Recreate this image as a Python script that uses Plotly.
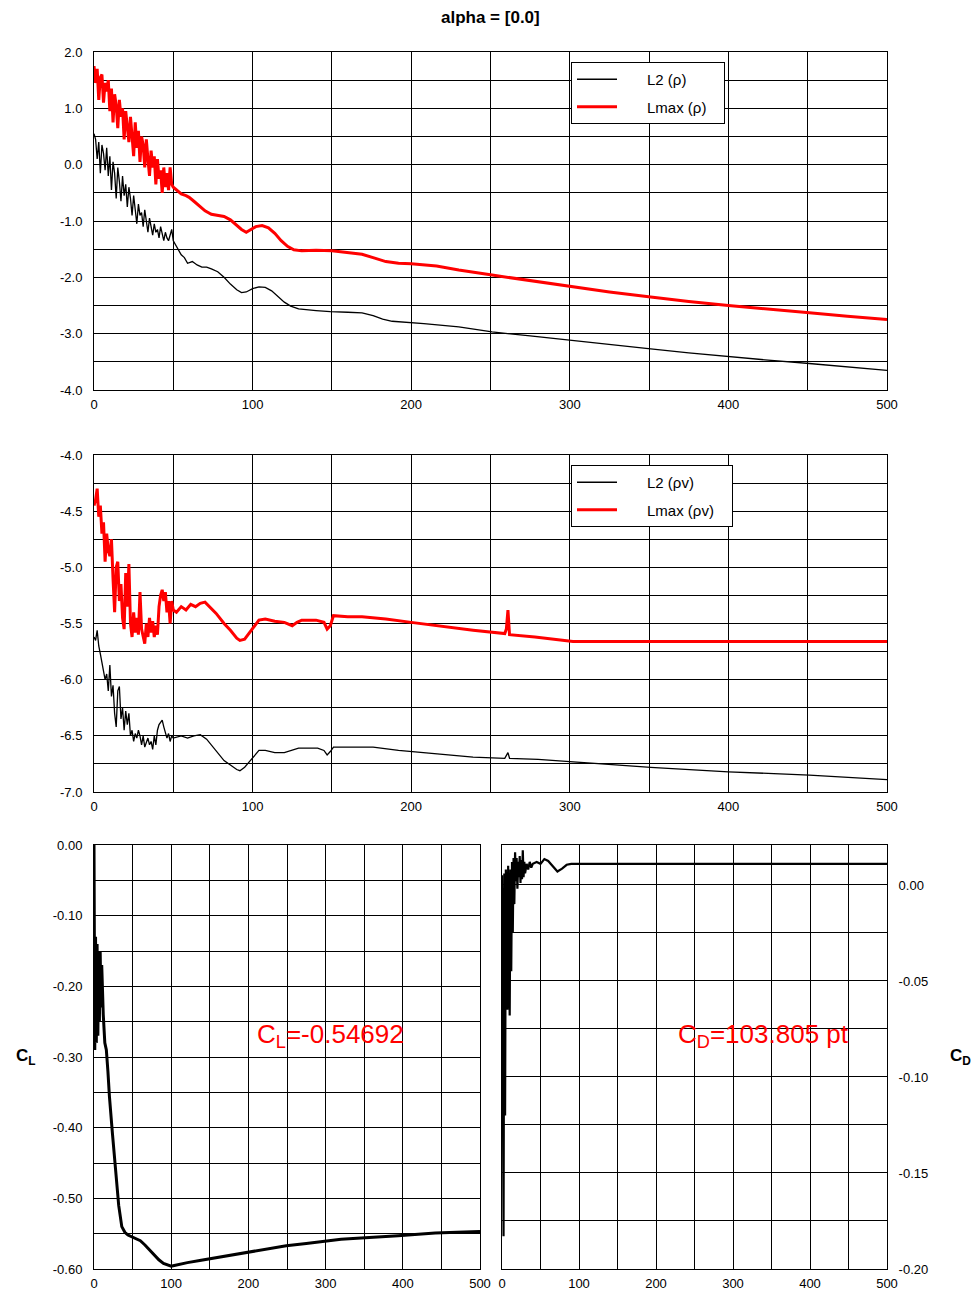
import plotly.graph_objects as go

# ---------------- data ----------------
# Top panel: residual of rho
rho_l2_it = list(range(0, 51)) + [52, 55, 57, 59, 62, 65, 68, 71, 74, 78, 82, 86, 90, 93, 96, 100, 104, 108, 112, 116,
                                  120, 124, 129, 140, 149, 160, 169, 176, 182, 188, 200, 208, 230, 251, 275, 300, 325,
                                  351, 375, 400, 425, 451, 475, 500]
rho_l2 = [0.55, 0.45, 0.10, 0.40, -0.15, 0.35, 0.20, -0.10, 0.30, -0.20, 0.15, -0.45, 0.05, -0.15, -0.60, -0.05, -0.30,
          -0.65, -0.20, -0.55, -0.35, -0.75, -0.40, -0.60, -0.90, -0.55, -0.80, -1.05, -0.70, -0.90, -0.85, -1.10,
          -0.80, -1.00, -1.20, -0.95, -1.10, -1.25, -1.05, -1.20, -1.15, -1.30, -1.10, -1.25, -1.35, -1.20, -1.30,
          -1.35, -1.25, -1.15, -1.35,
          -1.45, -1.60, -1.65, -1.75, -1.72, -1.78, -1.82, -1.82, -1.85, -1.90, -2.00, -2.12, -2.22, -2.27, -2.26,
          -2.20, -2.17, -2.18, -2.24, -2.34, -2.44, -2.51, -2.56, -2.59, -2.61, -2.62, -2.63, -2.68, -2.74, -2.78,
          -2.80, -2.82, -2.88, -2.97, -3.04, -3.12, -3.19, -3.27, -3.34, -3.41, -3.47, -3.53, -3.59, -3.65]

rho_max_it = list(range(0, 51)) + [52, 55, 58, 60, 63, 66, 70, 74, 78, 82, 86, 90, 93, 96, 99, 102, 106, 110, 114, 118,
                                   122, 126, 131, 140, 150, 160, 169, 177, 184, 192, 200, 216, 230, 251, 275, 300, 325,
                                   351, 375, 400, 425, 451, 475, 500]
rho_max = [1.75, 1.45, 1.70, 1.15, 1.55, 1.60, 1.10, 1.45, 1.30, 1.50, 0.95, 1.35, 0.75, 1.25, 1.05, 0.65, 1.15, 0.85,
           1.00, 0.45, 0.95, 0.70, 0.40, 0.85, 0.55, 0.15, 0.75, 0.30, 0.60, 0.05, 0.50, 0.35, -0.05, 0.45, 0.10,
           -0.20, 0.25, -0.05, 0.15, -0.35, 0.10, -0.25, -0.10, -0.50, -0.05, -0.40, -0.15, -0.45, -0.05, -0.35, -0.40,
           -0.45, -0.52, -0.55, -0.58, -0.65, -0.72, -0.82, -0.88, -0.90, -0.92, -0.98, -1.08, -1.15, -1.20, -1.15,
           -1.10, -1.08, -1.12, -1.22, -1.35, -1.45, -1.51, -1.53, -1.52, -1.53, -1.56, -1.59, -1.66, -1.72, -1.75,
           -1.76, -1.80, -1.87, -1.96, -2.06, -2.16, -2.26, -2.35, -2.43, -2.50, -2.57, -2.63, -2.69, -2.75]

# Middle panel: residual of rho*v
rv_l2_it = list(range(0, 51)) + [55, 59, 63, 67, 71, 75, 78, 82, 86, 90, 92, 95, 98, 101, 104, 108, 114, 120, 125, 129,
                                 141, 145, 147, 149, 151, 161, 176, 192, 216, 239, 259, 260, 261, 262, 280, 300, 351,
                                 400, 451, 500]
rv_l2 = [-5.62, -5.65, -5.56, -5.70, -5.77, -5.85, -5.90, -6.00, -5.95, -6.10, -5.87, -6.15, -6.05, -6.30, -6.42,
         -6.10, -6.06, -6.35, -6.25, -6.45, -6.28, -6.40, -6.30, -6.50, -6.45, -6.55, -6.48, -6.52, -6.45, -6.50,
         -6.58, -6.50, -6.60, -6.55, -6.52, -6.58, -6.55, -6.62, -6.50, -6.58, -6.45, -6.40, -6.38, -6.36, -6.42,
         -6.48, -6.52, -6.48, -6.55, -6.50, -6.52,
         -6.50, -6.52, -6.50, -6.49, -6.53, -6.60, -6.65, -6.72, -6.76, -6.80, -6.81, -6.78, -6.73, -6.68, -6.63,
         -6.63, -6.65, -6.65, -6.63, -6.61, -6.61, -6.63, -6.67, -6.64, -6.60, -6.60, -6.60, -6.63, -6.66, -6.69,
         -6.70, -6.68, -6.65, -6.70, -6.71, -6.73, -6.78, -6.82, -6.85, -6.89]

rv_max_it = list(range(0, 51)) + [52, 55, 58, 61, 64, 67, 70, 73, 77, 82, 86, 90, 92, 95, 98, 101, 104, 108, 114, 120,
                                  125, 128, 131, 140, 145, 147, 149, 151, 160, 169, 184, 200, 216, 239, 259, 260, 261,
                                  262, 278, 294, 302, 350, 400, 450, 500]
rv_max = [-4.45, -4.40, -4.30, -4.55, -4.45, -4.70, -4.60, -4.95, -4.70, -4.85, -4.90, -4.75, -5.10, -5.40, -5.00,
          -4.95, -5.30, -5.15, -5.45, -5.55, -5.05, -5.35, -4.97, -5.50, -5.62, -5.40, -5.58, -5.45, -5.60, -5.22,
          -5.55, -5.62, -5.68, -5.50, -5.62, -5.45, -5.58, -5.48, -5.62, -5.52, -5.60, -5.35, -5.25, -5.20, -5.30,
          -5.22, -5.40, -5.30, -5.50, -5.30, -5.38,
          -5.40, -5.35, -5.38, -5.33, -5.35, -5.32, -5.31, -5.35, -5.41, -5.50, -5.56, -5.63, -5.65, -5.64, -5.58,
          -5.52, -5.47, -5.46, -5.48, -5.49, -5.52, -5.49, -5.47, -5.47, -5.49, -5.55, -5.52, -5.43, -5.44, -5.44,
          -5.46, -5.49, -5.52, -5.56, -5.59, -5.55, -5.38, -5.60, -5.62, -5.65, -5.66, -5.66, -5.66, -5.66, -5.66]

# Bottom left: lift coefficient
cl_it = list(range(0, 13)) + [14, 16, 18, 20, 24, 28, 32, 36, 40, 44, 50, 56, 60, 66, 72, 78, 84, 90, 96, 100, 104,
                              112, 121, 137, 153, 175, 201, 225, 249, 275, 297, 320, 346, 370, 394, 420, 442, 470, 500]
cl = [0.00, -0.29, -0.13, -0.28, -0.14, -0.27, -0.15, -0.25, -0.15, -0.23, -0.17, -0.22, -0.24,
      -0.28, -0.29, -0.32, -0.356, -0.41, -0.464, -0.51, -0.54, -0.548, -0.552, -0.555, -0.557, -0.56, -0.566,
      -0.573, -0.58, -0.587, -0.592, -0.595, -0.596, -0.595, -0.593, -0.591, -0.588, -0.585, -0.580, -0.575,
      -0.571, -0.567, -0.564, -0.561, -0.558, -0.556, -0.554, -0.553, -0.551, -0.549, -0.548, -0.547]

# Bottom right: drag coefficient
cd_it = list(range(0, 31)) + [32, 34, 36, 38, 40, 45, 50, 55, 60, 66, 72, 78, 84, 90, 100, 150, 200, 250, 300, 350,
                              400, 450, 500]
cd = [0.005, -0.06, -0.183, 0.006, -0.12, 0.008, -0.03, -0.065, 0.010, -0.055, -0.068, 0.008, -0.045, 0.012,
      -0.025, 0.014, -0.010, 0.017, 0.002, 0.014, -0.002, 0.012, 0.004, 0.015, 0.001, 0.013, 0.003, 0.018, 0.004,
      0.012, 0.006, 0.011, 0.008, 0.012, 0.009, 0.011, 0.012, 0.011, 0.0135, 0.0125, 0.0095, 0.007, 0.0085, 0.0105,
      0.011, 0.011, 0.011, 0.011, 0.011, 0.011, 0.011, 0.011, 0.011, 0.011]

# Tick labels
x_ticks = [0, 100, 200, 300, 400, 500]
top_y_ticks = [2.0, 1.0, 0.0, -1.0, -2.0, -3.0, -4.0]
top_y_text = ["2.0", "1.0", "0.0", "-1.0", "-2.0", "-3.0", "-4.0"]
mid_y_ticks = [-4.0, -4.5, -5.0, -5.5, -6.0, -6.5, -7.0]
mid_y_text = ["-4.0", "-4.5", "-5.0", "-5.5", "-6.0", "-6.5", "-7.0"]
cl_y_ticks = [0.0, -0.1, -0.2, -0.3, -0.4, -0.5, -0.6]
cl_y_text = ["0.00", "-0.10", "-0.20", "-0.30", "-0.40", "-0.50", "-0.60"]
cd_y_ticks = [0.0, -0.05, -0.10, -0.15, -0.20]
cd_y_text = ["0.00", "-0.05", "-0.10", "-0.15", "-0.20"]

CL_TEXT = "C<sub>L</sub>=-0.54692"
CD_TEXT = "C<sub>D</sub>=103.805 pt"
TITLE = "alpha = [0.0]"

# ---------------- figure ----------------
W, H = 976, 1297
FONT = "Liberation Sans, Arial, sans-serif"
NB = "\u00a0"


def px(x):
    return x / W


def py(y):
    return 1 - y / H


def leg(name):
    return NB * 6 + name + NB * 3


fig = go.Figure()

fig.add_trace(go.Scatter(x=rho_l2_it, y=rho_l2, mode="lines", name=leg("L2 (\u03c1)"),
                         line=dict(color="black", width=1.3), xaxis="x", yaxis="y",
                         legend="legend", legendgroup="a"))
fig.add_trace(go.Scatter(x=rho_max_it, y=rho_max, mode="lines", name=leg("Lmax (\u03c1)"),
                         line=dict(color="#ff0000", width=3), xaxis="x", yaxis="y",
                         legend="legend", legendgroup="b"))
fig.add_trace(go.Scatter(x=rv_l2_it, y=rv_l2, mode="lines", name=leg("L2 (\u03c1v)"),
                         line=dict(color="black", width=1.3), xaxis="x2", yaxis="y2",
                         legend="legend2", legendgroup="c"))
fig.add_trace(go.Scatter(x=rv_max_it, y=rv_max, mode="lines", name=leg("Lmax (\u03c1v)"),
                         line=dict(color="#ff0000", width=3), xaxis="x2", yaxis="y2",
                         legend="legend2", legendgroup="d"))
fig.add_trace(go.Scatter(x=cl_it, y=cl, mode="lines", showlegend=False,
                         line=dict(color="black", width=3), xaxis="x3", yaxis="y3"))
fig.add_trace(go.Scatter(x=cd_it, y=cd, mode="lines", showlegend=False,
                         line=dict(color="black", width=2.2), xaxis="x4", yaxis="y4"))

grid = dict(showgrid=True, gridcolor="black", gridwidth=1, showline=True, linecolor="black",
            linewidth=1, mirror=True, zeroline=False, ticks="", automargin=False,
            tickfont=dict(family=FONT, size=13, color="black"))


def xax(d0, d1, anchor, minor):
    a = dict(grid)
    a.update(domain=[px(d0), px(d1)], anchor=anchor, range=[0, 500], tickvals=x_ticks,
             ticktext=[str(v) for v in x_ticks], ticklabelstandoff=2,
             minor=dict(dtick=minor, tick0=0, showgrid=True, gridcolor="black", gridwidth=1))
    return a


def yax(d0, d1, anchor, rng, tv, tt, minor, side="left"):
    a = dict(grid)
    a.update(domain=[py(d1), py(d0)], anchor=anchor, range=rng, tickvals=tv, ticktext=tt, side=side,
             ticklabelstandoff=8,
             minor=dict(dtick=minor, tick0=0, showgrid=True, gridcolor="black", gridwidth=1))
    return a


legend_common = dict(bgcolor="white", bordercolor="black", borderwidth=1, xanchor="left", yanchor="top",
                     font=dict(family=FONT, size=15, color="black"),
                     traceorder="grouped", tracegroupgap=5, itemwidth=40)


def ann(text, x, y, size, color="black"):
    return dict(text=text, x=px(x), y=py(y), xref="paper", yref="paper", showarrow=False,
                xanchor="center", yanchor="middle", font=dict(family=FONT, size=size, color=color))


fig.update_layout(
    width=W, height=H, autosize=False,
    margin=dict(l=0, r=0, t=0, b=0, pad=0),
    paper_bgcolor="white", plot_bgcolor="white",
    showlegend=True,
    xaxis=xax(94, 887, "y", 50),
    yaxis=yax(52, 390, "x", [-4.0, 2.0], top_y_ticks, top_y_text, 0.5),
    xaxis2=xax(94, 887, "y2", 50),
    yaxis2=yax(455, 792, "x2", [-7.0, -4.0], mid_y_ticks, mid_y_text, 0.25),
    xaxis3=xax(94, 480, "y3", 50),
    yaxis3=yax(845, 1269, "x3", [-0.6, 0.0], cl_y_ticks, cl_y_text, 0.05),
    xaxis4=xax(502, 887, "y4", 50),
    yaxis4=yax(845, 1269, "x4", [-0.2, 0.0208], cd_y_ticks, cd_y_text, 0.025, side="right"),
    legend=dict(legend_common, x=px(571), y=py(62)),
    legend2=dict(legend_common, x=px(571), y=py(465)),
    annotations=[
        ann("<b>" + TITLE + "</b>", 490, 18, 17),
        ann(CL_TEXT, 330, 1035, 26, "#ff0000"),
        ann(CD_TEXT, 763, 1035, 26, "#ff0000"),
        ann("<b>C<sub>L</sub></b>", 26, 1057, 17),
        ann("<b>C<sub>D</sub></b>", 960, 1057, 17),
    ],
)

fig.write_html("out.html",
               config={"displayModeBar": False},
               post_script="document.body.style.margin='0';document.body.style.padding='0';"
                           "document.body.style.overflow='hidden';"
                           "document.documentElement.style.overflow='hidden';")
